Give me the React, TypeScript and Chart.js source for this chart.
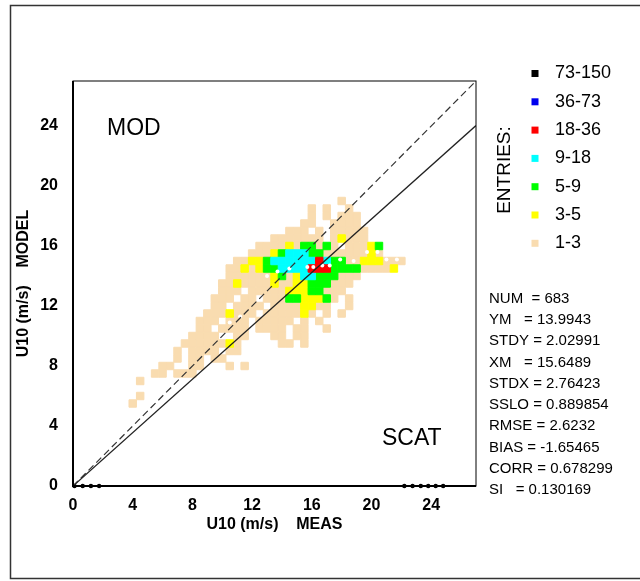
import React, { useEffect, useRef } from "react";
import { Chart, registerables } from "chart.js";

Chart.register(...registerables);

// ---------------- data ----------------
const AXIS_MIN = 0;
const AXIS_MAX = 27;
const X_TICKS = [0, 4, 8, 12, 16, 20, 24];
const Y_TICKS = [0, 4, 8, 12, 16, 20, 24];
const X_TITLE = "U10 (m/s)    MEAS";
const Y_TITLE = "U10 (m/s)    MODEL";

// density grid: one string per row, 0.5 m/s bins
// first column at x = 3.5, first row at y = 19 (rows go down by 0.5)
const BIN_SIZE = 0.5;
const GRID_X_FIRST = 3.5;
const GRID_Y_FIRST = 19;
const DENSITY_ROWS = [
  ".............................t",
  ".........................t.t..t",
  ".........................t.t.ttt",
  "........................tt..tttt",
  "......................ttt.t.ttttt",
  "....................ttttttt.tyttt",
  "..................ttttytggtgt.tttyg",
  ".................tttygcccggttttttyt",
  "...............ttyygccccccrcggttyyyttt",
  "..............ttytyggccccrrrggggtttty",
  "..............ttttttygtyccgggttt",
  ".............ttyttttyttyygggttt",
  ".............ttt.tttttyyyggttt",
  "............ttt.tt.tttggyyygt.t",
  "............tt.tttt.ttttyytt..t",
  "...........tttyttt.tttttyt.t.t",
  "..........ttt.ttt.ttttt.t.t",
  "..........tt.tttt.tttt.tt..t",
  ".........tttt..tt...tt.tt",
  "........ttttttyt.....tt.t",
  ".......t.tttt.tt",
  ".......t.tt.tt",
  ".....tt..tt...t.t",
  "....tt.ttt",
  "..t",
  "",
  "..t",
  ".t",
];

const CLASS_LABELS = ["73-150", "36-73", "18-36", "9-18", "5-9", "3-5", "1-3"];
const CLASS_CODES = ["k", "b", "r", "c", "g", "y", "t"];
const CLASS_COLORS = ["#000000", "#0000ee", "#ff0000", "#00ffff", "#00ff00", "#ffff00", "#f9dcb0"];

const FIT_SLOPE = 0.889854;

const AXIS_DOTS_X = [0.1, 0.65, 1.2, 1.75, 22.2, 22.75, 23.3, 23.8, 24.3, 24.8];
const QQ_X = [10.5, 11.2, 13.0, 13.7, 14.5, 15.7, 16.1, 16.7, 17.2, 17.9, 18.8, 19.7, 20.4, 21.0, 21.7];
const QQ_Y = [10.9, 11.3, 14.0, 14.3, 14.5, 14.6, 14.6, 14.7, 14.7, 15.1, 15.0, 15.6, 15.6, 15.1, 15.1];

const STATS = [
  "NUM  = 683",
  "YM   = 13.9943",
  "STDY = 2.02991",
  "XM   = 15.6489",
  "STDX = 2.76423",
  "SSLO = 0.889854",
  "RMSE = 2.6232",
  "BIAS = -1.65465",
  "CORR = 0.678299",
  "SI   = 0.130169",
];
const LABEL_TOP_LEFT = "MOD";
const LABEL_BOTTOM_RIGHT = "SCAT";
const LEGEND_TITLE = "ENTRIES:";

const FONT = "'Liberation Sans', Arial, Helvetica, sans-serif";

function cellsFor(code: string) {
  const pts: { x: number; y: number }[] = [];
  DENSITY_ROWS.forEach((row, r) => {
    for (let c = 0; c < row.length; c++) {
      if (row[c] === code) {
        pts.push({ x: GRID_X_FIRST + c * BIN_SIZE, y: GRID_Y_FIRST - r * BIN_SIZE });
      }
    }
  });
  return pts;
}

const decorPlugin = {
  id: "decor",
  afterDraw(chart: any) {
    const ctx = chart.ctx as CanvasRenderingContext2D;
    const a = chart.chartArea;
    ctx.save();
    // outer frame
    ctx.strokeStyle = "#333";
    ctx.lineWidth = 1.5;
    ctx.beginPath();
    ctx.moveTo(chart.width + 2, 5.5);
    ctx.lineTo(10.5, 5.5);
    ctx.lineTo(10.5, 578.5);
    ctx.lineTo(chart.width + 2, 578.5);
    ctx.stroke();

    // plot box
    ctx.strokeStyle = "#000";
    ctx.lineWidth = 1;
    ctx.strokeRect(a.left, a.top, a.right - a.left, a.bottom - a.top);
    ctx.lineWidth = 2;
    ctx.beginPath();
    ctx.moveTo(a.left, a.top);
    ctx.lineTo(a.left, a.bottom);
    ctx.lineTo(a.right, a.bottom);
    ctx.stroke();

    // corner labels
    ctx.fillStyle = "#000";
    ctx.textBaseline = "middle";
    ctx.textAlign = "left";
    ctx.font = `23px ${FONT}`;
    ctx.fillText(LABEL_TOP_LEFT, a.left + 34, a.top + 48);
    ctx.fillText(LABEL_BOTTOM_RIGHT, a.right - 94, a.bottom - 47);

    // legend
    const lx = a.right + 59;
    ctx.font = `18px ${FONT}`;
    CLASS_LABELS.forEach((lab, i) => {
      const y = 73.5 + i * 28.3;
      ctx.fillStyle = CLASS_COLORS[i];
      ctx.fillRect(lx - 3.5, y - 3.5, 7, 7);
      ctx.fillStyle = "#000";
      ctx.fillText(lab, lx + 20, y);
    });
    ctx.save();
    ctx.translate(a.right + 29, 170);
    ctx.rotate(-Math.PI / 2);
    ctx.textAlign = "center";
    ctx.font = `19px ${FONT}`;
    ctx.fillText(LEGEND_TITLE, 0, 0);
    ctx.restore();

    // stats
    ctx.font = `15px ${FONT}`;
    ctx.textAlign = "left";
    STATS.forEach((s, i) => {
      ctx.fillText(s, a.right + 13, 298.5 + i * 21.3);
    });
    ctx.restore();
  },
};

export default function App() {
  const ref = useRef<HTMLCanvasElement | null>(null);

  useEffect(() => {
    document.body.style.margin = "0";
    const canvas = ref.current;
    if (!canvas) return;

    const cellRadius = (ctx: any) => {
      const xs = ctx.chart.scales.x;
      if (!xs) return 3;
      const px = xs.getPixelForValue(BIN_SIZE) - xs.getPixelForValue(0);
      return px / Math.SQRT2;
    };

    const cellSets = CLASS_CODES.map((code, i) => ({
      label: CLASS_LABELS[i],
      data: cellsFor(code),
      pointStyle: "rect",
      pointRadius: cellRadius,
      backgroundColor: CLASS_COLORS[i],
      borderColor: CLASS_COLORS[i],
      borderWidth: 1,
      order: 5,
    }));

    const chart = new Chart(canvas, {
      type: "scatter",
      data: {
        datasets: [
          {
            label: "x=y",
            data: [
              { x: AXIS_MIN, y: AXIS_MIN },
              { x: AXIS_MAX, y: AXIS_MAX },
            ],
            showLine: true,
            borderColor: "#333",
            borderWidth: 1.2,
            borderDash: [7, 4],
            pointRadius: 0,
            order: 0,
          },
          {
            label: "fit",
            data: [
              { x: AXIS_MIN, y: AXIS_MIN * FIT_SLOPE },
              { x: AXIS_MAX, y: AXIS_MAX * FIT_SLOPE },
            ],
            showLine: true,
            borderColor: "#222",
            borderWidth: 1.3,
            pointRadius: 0,
            order: 0,
          },
          {
            label: "qq",
            data: QQ_X.map((x, i) => ({ x, y: QQ_Y[i] })),
            pointRadius: 2,
            backgroundColor: "#ffffff",
            borderWidth: 0,
            order: 1,
          },
          {
            label: "axis",
            data: AXIS_DOTS_X.map((x) => ({ x, y: 0 })),
            pointRadius: 2.2,
            backgroundColor: "#000",
            borderWidth: 0,
            clip: false,
            order: 1,
          },
          ...cellSets,
        ] as any,
      },
      options: {
        animation: false,
        responsive: false,
        devicePixelRatio: 1,
        events: [],
        layout: { padding: { left: 0, top: 81, right: 164, bottom: 0 } },
        plugins: {
          legend: { display: false },
          tooltip: { enabled: false },
        },
        scales: {
          x: {
            type: "linear",
            min: AXIS_MIN,
            max: AXIS_MAX,
            grid: { display: false, drawTicks: false },
            border: { display: false },
            afterBuildTicks: (axis: any) => {
              axis.ticks = X_TICKS.map((v) => ({ value: v }));
            },
            afterFit: (axis: any) => {
              axis.height = 95;
            },
            ticks: {
              padding: 10,
              color: "#000",
              font: { family: FONT, size: 16, weight: "bold" },
              callback: (v: any) => String(v),
            },
            title: {
              display: true,
              text: X_TITLE,
              color: "#000",
              font: { family: FONT, size: 16, weight: "bold" },
              padding: { top: 0, bottom: 47 },
            },
          },
          y: {
            type: "linear",
            min: AXIS_MIN,
            max: AXIS_MAX,
            grid: { display: false, drawTicks: false },
            border: { display: false },
            afterBuildTicks: (axis: any) => {
              axis.ticks = Y_TICKS.map((v) => ({ value: v }));
            },
            afterFit: (axis: any) => {
              axis.width = 73;
            },
            ticks: {
              padding: 15,
              color: "#000",
              font: { family: FONT, size: 16, weight: "bold" },
              callback: (v: any) => String(v),
            },
            title: {
              display: true,
              text: Y_TITLE,
              color: "#000",
              font: { family: FONT, size: 16, weight: "bold" },
              padding: { top: 14, bottom: 0 },
            },
          },
        },
      } as any,
      plugins: [decorPlugin],
    });

    return () => chart.destroy();
  }, []);

  return (
    <div style={{ width: 640, height: 581, position: "relative", background: "#fff" }}>
      <canvas ref={ref} width={640} height={581} style={{ display: "block" }} />
    </div>
  );
}
